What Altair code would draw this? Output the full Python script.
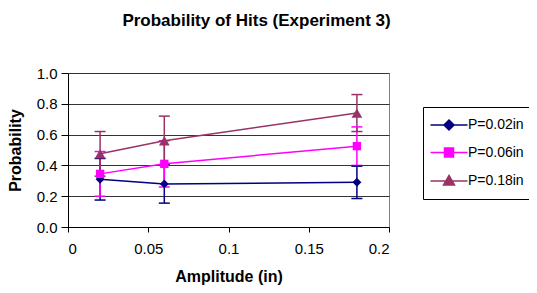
import altair as alt
import pandas as pd

# ---- data ----
amplitude = [0.02, 0.06, 0.18]
series_names = ["P=0.02in", "P=0.06in", "P=0.18in"]
prob_002 = [0.31, 0.28, 0.29]
err_002 = [0.135, 0.125, 0.105]
prob_006 = [0.345, 0.41, 0.525]
err_006 = [0.145, 0.15, 0.125]
prob_018 = [0.475, 0.56, 0.74]
err_018 = [0.145, 0.16, 0.12]
markers = ["diamond", "square", "triangle-up"]
marker_sizes = [80, 70, 115]
colors = ["#000080", "#FF00FF", "#993366"]

x_ticks = [0, 0.05, 0.1, 0.15, 0.2]
y_ticks = [0.0, 0.2, 0.4, 0.6, 0.8, 1.0]

rows = []
for name, probs, errs in zip(series_names,
                             [prob_002, prob_006, prob_018],
                             [err_002, err_006, err_018]):
    for a, p, e in zip(amplitude, probs, errs):
        rows.append({"series": name, "amp": a, "prob": p,
                     "lo": p - e, "hi": p + e})
df = pd.DataFrame(rows)

FONT = "Liberation Sans"

# legend symbols: a short line with the marker on it (path units = sqrt(size)/2 px)
U = 5.0
DX = 1.6


def f(v):
    return f"{v:.3f}"


line = f"M{f(-18.5 / U + DX)},0H{f(18.5 / U + DX)}"
legend_paths = [
    line + f"M{f(DX)},{f(-5 / U)}L{f(5 / U + DX)},0L{f(DX)},{f(5 / U)}L{f(-5 / U + DX)},0Z",
    line + f"M{f(-4.5 / U + DX)},{f(-4.5 / U)}H{f(4.5 / U + DX)}V{f(4.5 / U)}H{f(-4.5 / U + DX)}Z",
    line + f"M{f(DX)},{f(-5.5 / U)}L{f(5.5 / U + DX)},{f(4 / U)}H{f(-5.5 / U + DX)}Z",
]

x_scale = alt.Scale(domain=[0, 0.2], nice=False, zero=False)
y_scale = alt.Scale(domain=[0, 1], nice=False, zero=False)
x_axis = alt.Axis(values=x_ticks, format=".2~f", title="Amplitude (in)",
                  grid=False, tickSize=5, labelPadding=9, titlePadding=12,
                  labelOverlap=False, tickCount=5)
y_axis = alt.Axis(values=y_ticks, format=".1f", title="Probability",
                  grid=True, tickSize=7, labelPadding=4, titlePadding=13,
                  labelOverlap=False, tickCount=6)


def X(field):
    return alt.X(field, type="quantitative", scale=x_scale, axis=x_axis)


def Y(field):
    return alt.Y(field, type="quantitative", scale=y_scale, axis=y_axis)


# colour scale: domain taken from the data (so its legend, which is switched
# off, is not merged with the legend built below)
color_enc = alt.Color("series:N", scale=alt.Scale(range=colors), legend=None)

base = alt.Chart(df)

err_rule = base.mark_rule(strokeWidth=1.5).encode(
    x=X("amp"), y=Y("lo"), y2="hi:Q", color=color_enc)
cap_lo = base.mark_tick(orient="horizontal", size=11, thickness=1.5, opacity=1).encode(
    x=X("amp"), y=Y("lo"), color=color_enc)
cap_hi = base.mark_tick(orient="horizontal", size=11, thickness=1.5, opacity=1).encode(
    x=X("amp"), y=Y("hi"), color=color_enc)

lines = base.mark_line(strokeWidth=1.5).encode(
    x=X("amp"), y=Y("prob"), color=color_enc, detail="series:N")

point_layers = []
for name, mk, sz in zip(series_names, markers, marker_sizes):
    point_layers.append(
        base.transform_filter(alt.datum.series == name)
        .mark_point(filled=True, opacity=1, size=sz, shape=mk)
        .encode(x=X("amp"), y=Y("prob"), color=color_enc)
    )

leg = dict(title=None, orient="none", legendX=355, legendY=34,
           padding=11, strokeColor="black", fillColor="white",
           symbolSize=100, symbolStrokeWidth=1.5, symbolOpacity=1,
           labelFont=FONT, labelFontSize=14, labelColor="black",
           labelOffset=20, rowPadding=11.5, cornerRadius=0)

# invisible layer whose only job is to produce the legend
legend_layer = base.mark_point(
    filled=True, opacity=0, strokeWidth=1.5).encode(
    x=X("amp"), y=Y("prob"),
    fill=alt.Fill("series:N", scale=alt.Scale(domain=series_names, range=colors),
                  legend=alt.Legend(**leg)),
    stroke=alt.Stroke("series:N", scale=alt.Scale(domain=series_names, range=colors),
                      legend=alt.Legend(**leg)),
    shape=alt.Shape("series:N", scale=alt.Scale(domain=series_names, range=legend_paths),
                    legend=alt.Legend(**leg)),
)

chart = alt.layer(err_rule, cap_lo, cap_hi, lines, *point_layers, legend_layer).properties(
    width=321, height=154,
    autosize=alt.AutoSizeParams(type="none"),
    padding={"left": 60, "top": 65, "right": 140, "bottom": 58},
    title=alt.Title("Probability of Hits (Experiment 3)", font=FONT, fontSize=17,
                    fontWeight="bold", color="black", anchor="middle", dx=28,
                    offset=36),
).configure_view(
    stroke="#808080", strokeWidth=1
).configure_axis(
    labelFont=FONT, labelFontSize=15, labelColor="black",
    titleFont=FONT, titleFontSize=16, titleFontWeight="bold", titleColor="black",
    domainColor="black", tickColor="black", gridColor="#333333", gridWidth=1,
    domainWidth=1, tickWidth=1,
)

chart.save("out.html", embed_options={"renderer": "svg", "actions": False})
